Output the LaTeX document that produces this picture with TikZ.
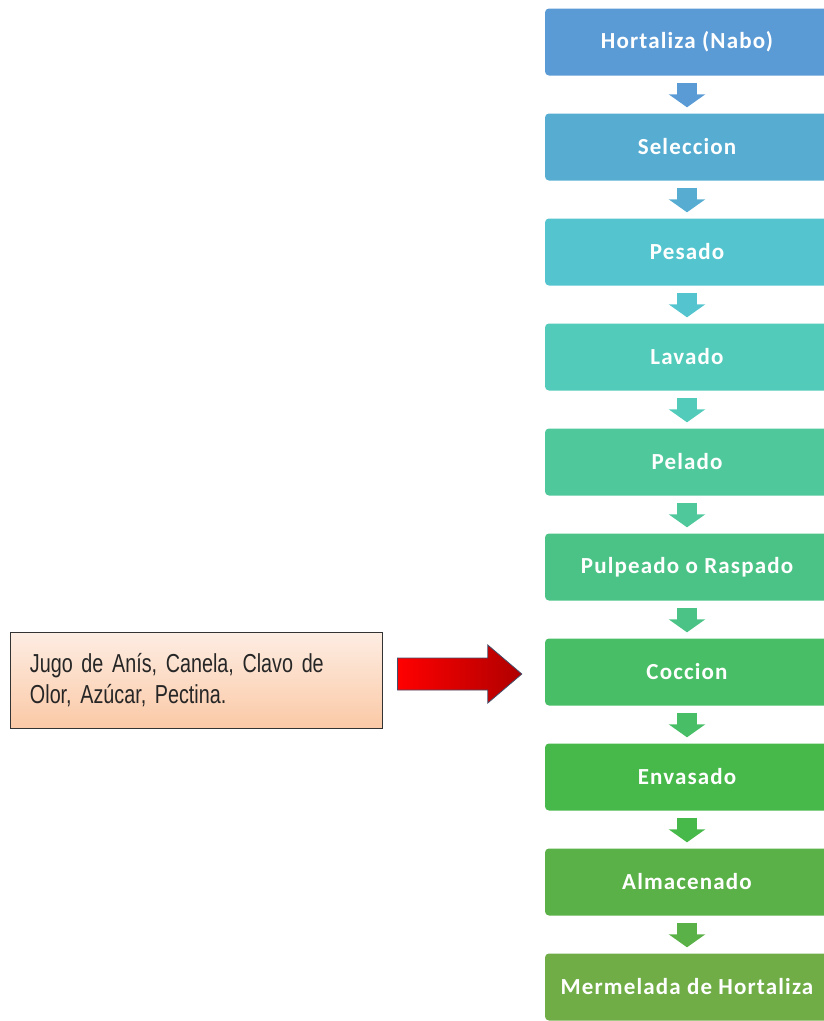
\documentclass[tikz,border=0pt]{standalone}
\usepackage{fontspec}
\setmainfont{Carlito}
\newfontfamily\condfont[FakeStretch=0.76,WordSpace=0.45]{Liberation Sans}
\newfontfamily\boxfont[LetterSpace=5]{Carlito}
\usetikzlibrary{arrows.meta,calc}
\definecolor{c1}{HTML}{5B9BD5}
\definecolor{c2}{HTML}{56ADD1}
\definecolor{c3}{HTML}{54C5CF}
\definecolor{c4}{HTML}{52CBBB}
\definecolor{c5}{HTML}{4FC89C}
\definecolor{c6}{HTML}{4BC386}
\definecolor{c7}{HTML}{48BE66}
\definecolor{c8}{HTML}{47B94B}
\definecolor{c9}{HTML}{5AB147}
\definecolor{c10}{HTML}{70AD47}
\definecolor{peachtop}{HTML}{FDEDE3}
\definecolor{peachbot}{HTML}{FBC9A6}
\definecolor{redl}{HTML}{FF0000}
\definecolor{redr}{HTML}{B00000}
\definecolor{redborder}{HTML}{41506B}
\begin{document}
\begin{tikzpicture}[x=1pt,y=-1pt,
  stepbox/.style={rounded corners=4pt, minimum width=284pt, minimum height=67pt,
    inner sep=0pt, text=white, font=\boxfont\bfseries\fontsize{23}{26}\selectfont},
  downarrow/.style={line width=20pt, -{Triangle[width=36pt,length=13pt]}},
  inputbox/.style={draw=black!80, line width=1pt, top color=peachtop, bottom color=peachbot,
    minimum width=372pt, minimum height=96pt, inner xsep=20pt, inner ysep=0pt,
    text width=332pt, align=left, text=black!85,
    font=\condfont\fontsize{26}{31}\selectfont}]
\useasboundingbox (0,0) rectangle (823,1021);
\node[stepbox, fill=c1] (s1) at (687,42) {Hortaliza (Nabo)};
\node[stepbox, fill=c2] (s2) at (687,147) {Seleccion};
\node[stepbox, fill=c3] (s3) at (687,252) {Pesado};
\node[stepbox, fill=c4] (s4) at (687,357) {Lavado};
\node[stepbox, fill=c5] (s5) at (687,462) {Pelado};
\node[stepbox, fill=c6] (s6) at (687,567) {Pulpeado o Raspado};
\node[stepbox, fill=c7] (s7) at (687,672) {Coccion};
\node[stepbox, fill=c8] (s8) at (687,777) {Envasado};
\node[stepbox, fill=c9] (s9) at (687,882) {Almacenado};
\node[stepbox, fill=c10] (s10) at (687,987) {Mermelada de Hortaliza};
\foreach \a/\b in {1/2,2/3,3/4,4/5,5/6,6/7,7/8,8/9,9/10}{
  \draw[downarrow, c\a] ($(s\a.south)+(0,7)$) -- ($(s\b.north)+(0,-6)$);
}
\node[inputbox] (in) at (196,680) {Jugo de Anís, Canela, Clavo de\\Olor, Azúcar, Pectina.};
\coordinate (rs) at ($(in.east |- s7.west)+(15,2)$);
\coordinate (re) at ($(s7.west)+(-23,2)$);
\draw[redborder, line width=0.8pt, left color=redl, right color=redr]
  ($(rs)+(0,-16)$) -- ($(re)+(-34,-16)$) -- ($(re)+(-34,-29)$) -- (re)
  -- ($(re)+(-34,29)$) -- ($(re)+(-34,16)$) -- ($(rs)+(0,16)$) -- cycle;
\end{tikzpicture}
\end{document}
